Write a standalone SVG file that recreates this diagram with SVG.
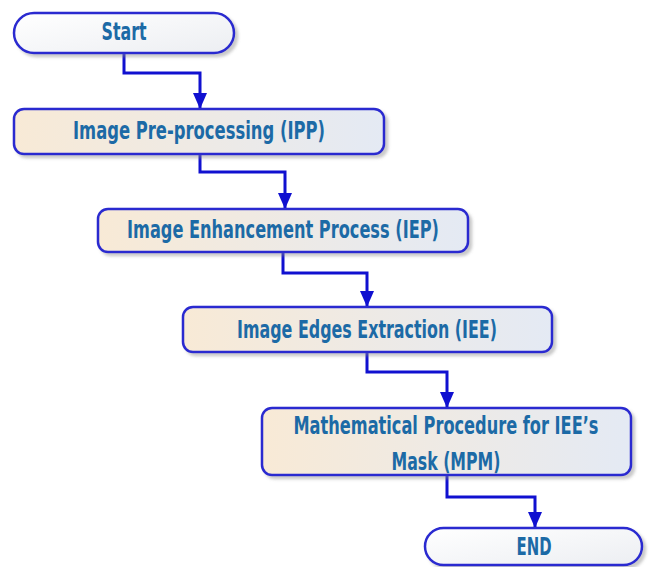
<svg xmlns="http://www.w3.org/2000/svg" width="649" height="567" viewBox="0 0 649 567">
<defs>
<linearGradient id="boxFill" x1="0" y1="0" x2="1" y2="0">
<stop offset="0" stop-color="#f8ead6"/>
<stop offset="1" stop-color="#e4eaf4"/>
</linearGradient>
<linearGradient id="termFill" x1="0" y1="0" x2="1" y2="1">
<stop offset="0" stop-color="#ffffff"/>
<stop offset="1" stop-color="#eceef2"/>
</linearGradient>
<filter id="shadow" x="-5%" y="-20%" width="115%" height="150%">
<feDropShadow dx="3" dy="3" stdDeviation="1.5" flood-color="#888888" flood-opacity="0.45"/>
</filter>
<marker id="arrow" viewBox="0 0 16 14" refX="16" refY="7" markerWidth="16" markerHeight="14" markerUnits="userSpaceOnUse" orient="auto">
<path d="M0,0 L16,7 L0,14 Z" fill="#1010d0"/>
</marker>
</defs>
<style>
.box{fill:url(#boxFill);stroke:#2a2ad0;stroke-width:2.5;filter:url(#shadow)}
.term{fill:url(#termFill);stroke:#2a2ad0;stroke-width:2.5;filter:url(#shadow)}
.lbl{font-family:"Liberation Sans Narrow","DejaVu Sans Condensed","DejaVu Sans",sans-serif;font-weight:bold;font-size:24px;fill:#1c6aa6;text-anchor:middle}
.conn{fill:none;stroke:#1010d0;stroke-width:3;marker-end:url(#arrow)}
</style>
<g id="connectors">
<path class="conn" d="M124,53 V73 H200 V109"/>
<path class="conn" d="M200,154 V172 H285 V209"/>
<path class="conn" d="M283,252 V273 H367 V307"/>
<path class="conn" d="M367,352 V372 H447 V408"/>
<path class="conn" d="M447,475 V497 H535 V528"/>
</g>
<g id="start">
<rect class="term" x="14" y="13" width="220" height="40" rx="20" ry="20"/>
<text class="lbl" x="124" y="40" textLength="45" lengthAdjust="spacingAndGlyphs">Start</text>
</g>
<g id="ipp">
<rect class="box" x="14" y="109" width="370" height="45" rx="10" ry="10"/>
<text class="lbl" x="199" y="139" textLength="252" lengthAdjust="spacingAndGlyphs">Image Pre-processing (IPP)</text>
</g>
<g id="iep">
<rect class="box" x="98" y="209" width="370" height="43" rx="10" ry="10"/>
<text class="lbl" x="283" y="238" textLength="312" lengthAdjust="spacingAndGlyphs">Image Enhancement Process (IEP)</text>
</g>
<g id="iee">
<rect class="box" x="183" y="307" width="369" height="45" rx="10" ry="10"/>
<text class="lbl" x="367" y="338" textLength="260" lengthAdjust="spacingAndGlyphs">Image Edges Extraction (IEE)</text>
</g>
<g id="mpm">
<rect class="box" x="262" y="408" width="369" height="67" rx="10" ry="10"/>
<text class="lbl" x="446" y="434" textLength="305" lengthAdjust="spacingAndGlyphs">Mathematical Procedure for IEE’s</text>
<text class="lbl" x="446" y="470" textLength="109" lengthAdjust="spacingAndGlyphs">Mask (MPM)</text>
</g>
<g id="end">
<rect class="term" x="425" y="528" width="217" height="37" rx="18.5" ry="18.5"/>
<text class="lbl" x="534" y="555" textLength="35" lengthAdjust="spacingAndGlyphs">END</text>
</g>
</svg>
